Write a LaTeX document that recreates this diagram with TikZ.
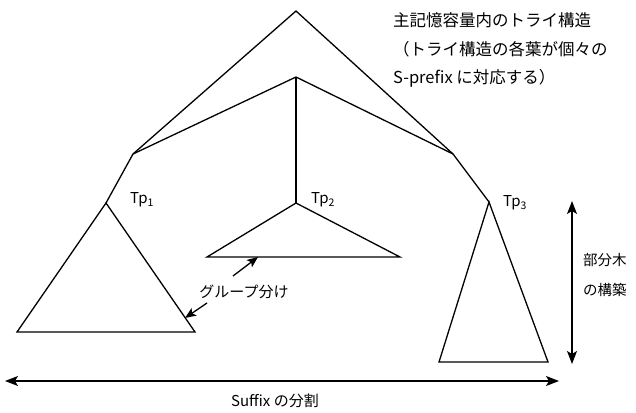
\documentclass[tikz,border=0pt]{standalone}
\usepackage{fontspec}
\setmainfont{Noto Sans CJK JP}
\usetikzlibrary{arrows.meta}
\begin{document}
\begin{tikzpicture}[x=1pt,y=-1pt,
  edge/.style={line width=1.3pt,line join=miter},
  bigarrow/.style={line width=1.3pt,{Stealth[length=13pt,width=10pt,inset=3pt]}-{Stealth[length=13pt,width=10pt,inset=3pt]}},
  smallarrow/.style={line width=1.3pt,-{Stealth[length=11pt,width=9pt,inset=2.5pt]}},
  lbl/.style={inner sep=0pt,font=\fontsize{15}{18}\selectfont},
  toplbl/.style={inner sep=0pt,anchor=west,font=\fontsize{16.5}{20}\selectfont}]
\useasboundingbox (0,0) rectangle (636,412);
% tree vertices
\coordinate (root) at (296,11);
\coordinate (mid) at (296,77);
\coordinate (ln) at (133,154);
\coordinate (rn) at (453,154);
\coordinate (t1) at (106,203);
\coordinate (t1l) at (17,332);
\coordinate (t1r) at (195,332);
\coordinate (t2) at (296,203);
\coordinate (t2l) at (207,257);
\coordinate (t2r) at (400,257);
\coordinate (t3) at (489,202);
\coordinate (t3l) at (439,362);
\coordinate (t3r) at (548,362);
% tree edges
\draw[edge] (t1) -- (ln) -- (root) -- (rn) -- (t3);
\draw[edge] (ln) -- (mid) -- (rn);
\draw[edge] (mid) -- (t2);
% subtrees
\draw[edge] (t1) -- (t1l) -- (t1r) -- cycle;
\draw[edge] (t2) -- (t2l) -- (t2r) -- cycle;
\draw[edge] (t3) -- (t3l) -- (t3r) -- cycle;
% labels
\node[lbl] (tp1) at (142,200) {Tp\textsubscript{1}};
\node[lbl] (tp2) at (323,200) {Tp\textsubscript{2}};
\node[lbl] (tp3) at (515,203) {Tp\textsubscript{3}};
\node[toplbl] (c1) at (393,20) {主記憶容量内のトライ構造};
\node[toplbl] (c2) at (393,49) {（トライ構造の各葉が個々の};
\node[toplbl] (c3) at (393,78) {S-prefix に対応する）};
% grouping
\node[lbl] (grp) at (244,292) {グループ分け};
\coordinate (g1) at (258,257);
\coordinate (g2) at (185,318);
\draw[smallarrow] (233,276) -- (g1);
\draw[smallarrow] (207,303) -- (g2);
% subtree construction
\coordinate (va) at (572,201);
\coordinate (vb) at (572,364);
\draw[bigarrow] (va) -- (vb);
\node[lbl,anchor=west,font=\fontsize{14.5}{18}\selectfont] (bu1) at (583,260) {部分木};
\node[lbl,anchor=west,font=\fontsize{14.5}{18}\selectfont] (bu2) at (583,290) {の構築};
% suffix division
\coordinate (ha) at (5,381);
\coordinate (hb) at (559,381);
\draw[bigarrow] (ha) -- (hb);
\node[lbl] (suf) at (275,401) {Suffix の分割};
\end{tikzpicture}
\end{document}
